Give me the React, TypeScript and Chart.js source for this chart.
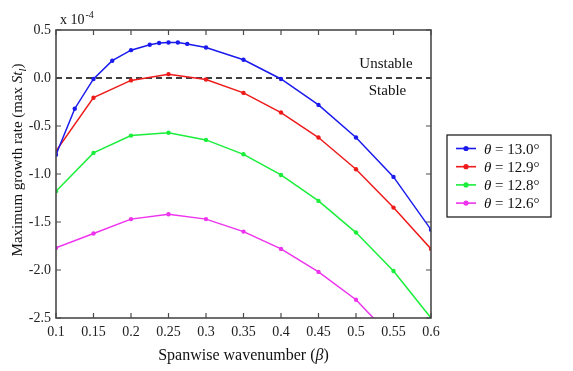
import React, { useEffect, useRef } from "react";
import { Chart, registerables } from "chart.js";
Chart.register(...registerables);

// ---- data (growth rate x 1e-4) ----
const BLUE_BETA = [0.1, 0.125, 0.15, 0.175, 0.2, 0.225, 0.2375, 0.25, 0.2625, 0.275, 0.3, 0.35, 0.4, 0.45, 0.5, 0.55, 0.6];
const BLUE_RATE = [-0.8, -0.32, -0.01, 0.18, 0.29, 0.347, 0.365, 0.37, 0.37, 0.355, 0.318, 0.19, -0.01, -0.28, -0.62, -1.03, -1.58];

const RED_BETA = [0.1, 0.15, 0.2, 0.25, 0.3, 0.35, 0.4, 0.45, 0.5, 0.55, 0.6];
const RED_RATE = [-0.76, -0.205, -0.025, 0.04, -0.015, -0.155, -0.36, -0.62, -0.95, -1.35, -1.78];

const GREEN_BETA = [0.1, 0.15, 0.2, 0.25, 0.3, 0.35, 0.4, 0.45, 0.5, 0.55, 0.6];
const GREEN_RATE = [-1.18, -0.78, -0.6, -0.57, -0.645, -0.795, -1.01, -1.28, -1.61, -2.01, -2.5];

const MAGENTA_BETA = [0.1, 0.15, 0.2, 0.25, 0.3, 0.35, 0.4, 0.45, 0.5, 0.55];
const MAGENTA_RATE = [-1.77, -1.62, -1.47, -1.42, -1.47, -1.6, -1.78, -2.02, -2.31, -2.72];

const SERIES_LABELS = ["13.0°", "12.9°", "12.8°", "12.6°"];
const SERIES_COLORS = ["#1a1aee", "#ee1a1a", "#1aee3a", "#ee33ee"];

const X_MIN = 0.1;
const X_MAX = 0.6;
const X_STEP = 0.05;
const Y_MIN = -2.5;
const Y_MAX = 0.5;
const Y_STEP = 0.5;

const FONT = "'Liberation Serif', 'DejaVu Serif', serif";

type Seg = { t: string; it?: boolean; sub?: boolean };

function segWidth(ctx: CanvasRenderingContext2D, segs: Seg[], size: number) {
  let w = 0;
  for (const s of segs) {
    const sz = s.sub ? size * 0.7 : size;
    ctx.font = `${s.it ? "italic " : ""}${sz}px ${FONT}`;
    w += ctx.measureText(s.t).width;
  }
  return w;
}

function drawSegs(ctx: CanvasRenderingContext2D, segs: Seg[], x: number, y: number, size: number) {
  let cx = x;
  ctx.textAlign = "left";
  ctx.textBaseline = "alphabetic";
  for (const s of segs) {
    const sz = s.sub ? size * 0.7 : size;
    ctx.font = `${s.it ? "italic " : ""}${sz}px ${FONT}`;
    ctx.fillText(s.t, cx, s.sub ? y + size * 0.25 : y);
    cx += ctx.measureText(s.t).width;
  }
}

const decorPlugin = {
  id: "decor",
  beforeDatasetsDraw(chart: any) {
    const { ctx, chartArea: a, scales } = chart;
    const y0 = scales.y.getPixelForValue(0);
    ctx.save();
    ctx.strokeStyle = "#000";
    ctx.lineWidth = 1.3;
    ctx.setLineDash([6, 4]);
    ctx.beginPath();
    ctx.moveTo(a.left, y0);
    ctx.lineTo(a.right, y0);
    ctx.stroke();
    ctx.restore();
  },
  afterDraw(chart: any) {
    const { ctx, chartArea: a, scales } = chart;
    const xs = scales.x;
    const ys = scales.y;
    ctx.save();
    // frame
    ctx.strokeStyle = "#4a4a4a";
    ctx.lineWidth = 1.6;
    ctx.setLineDash([]);
    ctx.strokeRect(a.left, a.top, a.right - a.left, a.bottom - a.top);
    // inward ticks
    const tl = 5;
    ctx.lineWidth = 1.2;
    ctx.beginPath();
    for (const t of xs.ticks) {
      const px = xs.getPixelForValue(t.value);
      ctx.moveTo(px, a.bottom);
      ctx.lineTo(px, a.bottom - tl);
      ctx.moveTo(px, a.top);
      ctx.lineTo(px, a.top + tl);
    }
    for (const t of ys.ticks) {
      const py = ys.getPixelForValue(t.value);
      ctx.moveTo(a.left, py);
      ctx.lineTo(a.left + tl, py);
      ctx.moveTo(a.right, py);
      ctx.lineTo(a.right - tl, py);
    }
    ctx.stroke();

    ctx.fillStyle = "#111";
    // exponent label
    ctx.font = `14px ${FONT}`;
    ctx.textAlign = "left";
    ctx.textBaseline = "alphabetic";
    ctx.fillText("x 10", a.left + 4, a.top - 6);
    const w10 = ctx.measureText("x 10").width;
    ctx.font = `10px ${FONT}`;
    ctx.fillText("-4", a.left + 4 + w10 + 1, a.top - 12);

    // stable / unstable
    ctx.font = `15px ${FONT}`;
    ctx.textAlign = "center";
    ctx.textBaseline = "middle";
    ctx.fillText("Unstable", xs.getPixelForValue(0.54), ys.getPixelForValue(0.145));
    ctx.fillText("Stable", xs.getPixelForValue(0.542), ys.getPixelForValue(-0.135));

    // x title
    const xt: Seg[] = [{ t: "Spanwise wavenumber (" }, { t: "β", it: true }, { t: ")" }];
    const xw = segWidth(ctx, xt, 16);
    drawSegs(ctx, xt, (a.left + a.right) / 2 - xw / 2, 360, 16);

    // y title
    const yt: Seg[] = [{ t: "Maximum growth rate (max " }, { t: "St", it: true }, { t: "l", it: true, sub: true }, { t: ")" }];
    const yw = segWidth(ctx, yt, 15);
    ctx.save();
    ctx.translate(22, 160);
    ctx.rotate(-Math.PI / 2);
    drawSegs(ctx, yt, -yw / 2, 0, 15);
    ctx.restore();

    // legend
    const lx = 447, ly = 135, lw = 104, lh = 82;
    ctx.fillStyle = "#fff";
    ctx.fillRect(lx, ly, lw, lh);
    ctx.strokeStyle = "#111";
    ctx.lineWidth = 1.2;
    ctx.strokeRect(lx, ly, lw, lh);
    SERIES_LABELS.forEach((lab, i) => {
      const ry = 148.5 + i * 18.2;
      ctx.strokeStyle = SERIES_COLORS[i];
      ctx.lineWidth = 1.6;
      ctx.beginPath();
      ctx.moveTo(456, ry);
      ctx.lineTo(476, ry);
      ctx.stroke();
      ctx.fillStyle = SERIES_COLORS[i];
      ctx.beginPath();
      ctx.arc(466, ry, 2.6, 0, Math.PI * 2);
      ctx.fill();
      ctx.fillStyle = "#111";
      drawSegs(ctx, [{ t: "θ", it: true }, { t: " = " + lab }], 484, ry + 5, 15);
    });
    ctx.restore();
  },
};

function pts(xs: number[], ys: number[]) {
  return xs.map((x, i) => ({ x, y: ys[i] }));
}

export default function App() {
  const ref = useRef<HTMLCanvasElement>(null);
  useEffect(() => {
    const canvas = ref.current!;
    const mk = (label: string, data: any[], color: string) => ({
      label,
      data,
      borderColor: color,
      backgroundColor: color,
      pointBackgroundColor: color,
      pointBorderColor: color,
      borderWidth: 1.5,
      pointRadius: 2.2,
      pointBorderWidth: 0,
      tension: 0,
    });
    const chart = new Chart(canvas, {
      type: "line",
      data: {
        datasets: [
          mk(SERIES_LABELS[0], pts(BLUE_BETA, BLUE_RATE), SERIES_COLORS[0]),
          mk(SERIES_LABELS[1], pts(RED_BETA, RED_RATE), SERIES_COLORS[1]),
          mk(SERIES_LABELS[2], pts(GREEN_BETA, GREEN_RATE), SERIES_COLORS[2]),
          mk(SERIES_LABELS[3], pts(MAGENTA_BETA, MAGENTA_RATE), SERIES_COLORS[3]),
        ],
      },
      options: {
        responsive: false,
        animation: false,
        devicePixelRatio: 1,
        layout: { padding: { top: 30, right: 142, bottom: 0, left: 0 } },
        plugins: { legend: { display: false }, tooltip: { enabled: false }, title: { display: false } },
        scales: {
          x: {
            type: "linear",
            min: X_MIN,
            max: X_MAX,
            grid: { display: false, drawTicks: false },
            border: { display: false },
            ticks: {
              stepSize: X_STEP,
              autoSkip: false,
              maxRotation: 0,
              padding: 6,
              color: "#222",
              font: { family: FONT, size: 14 },
              callback: (v: any) => String(parseFloat(Number(v).toFixed(2))),
            },
            afterFit: (s: any) => {
              s.height = 53;
            },
          },
          y: {
            type: "linear",
            min: Y_MIN,
            max: Y_MAX,
            grid: { display: false, drawTicks: false },
            border: { display: false },
            ticks: {
              stepSize: Y_STEP,
              padding: 5,
              color: "#222",
              font: { family: FONT, size: 14 },
              callback: (v: any) => Number(v).toFixed(1),
            },
            afterFit: (s: any) => {
              s.width = 56;
            },
          },
        },
      } as any,
      plugins: [decorPlugin],
    });
    return () => chart.destroy();
  }, []);
  return (
    <div style={{ position: "absolute", left: 0, top: 0, width: 573, height: 371, background: "#fff" }}>
      <canvas ref={ref} width={573} height={371} style={{ display: "block", width: 573, height: 371 }} />
    </div>
  );
}
